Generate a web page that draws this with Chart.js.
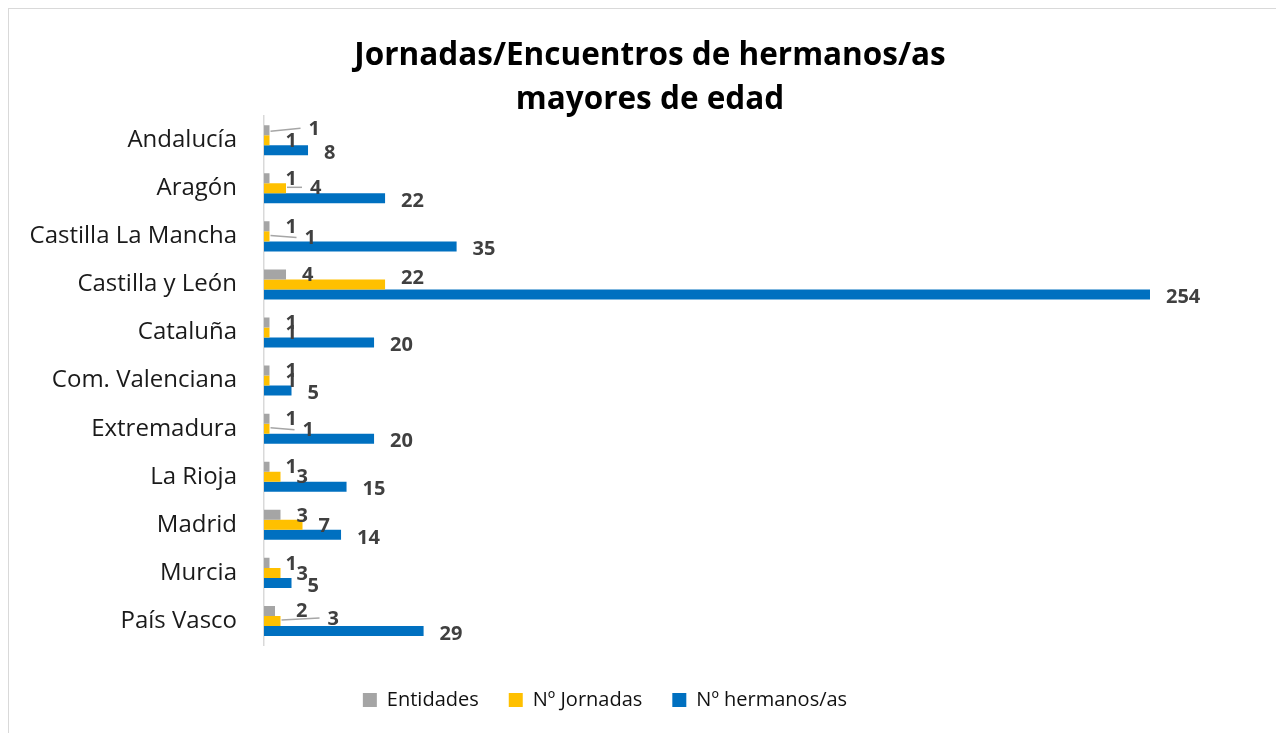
<!DOCTYPE html>
<html lang="es">
<head>
<meta charset="utf-8">
<title>Jornadas/Encuentros de hermanos/as mayores de edad</title>
<script src="https://cdn.jsdelivr.net/npm/chart.js@4/dist/chart.umd.min.js"></script>
<style>
  html, body { margin: 0; padding: 0; background: #fff; }
  canvas { display: block; }
</style>
</head>
<body>
<canvas id="grafico" width="1276" height="733"></canvas>
<script>
// datos
const categorias = ['Andalucía', 'Aragón', 'Castilla La Mancha', 'Castilla y León', 'Cataluña',
  'Com. Valenciana', 'Extremadura', 'La Rioja', 'Madrid', 'Murcia', 'País Vasco'];
const entidades = [1, 1, 1, 4, 1, 1, 1, 1, 3, 1, 2];
const jornadas  = [1, 4, 1, 22, 1, 1, 1, 3, 7, 3, 3];
const hermanos  = [8, 22, 35, 254, 20, 5, 20, 15, 14, 5, 29];

const FUENTE = '"Open Sans", "Noto Sans", sans-serif';

// etiquetas movidas a mano en el original: [dx, dy, linea guia]
const ajusteEtiquetas = {
  '0-0': [23, -2, true],
  '0-10': [5, -1, false],
  '1-1': [8, -1, true],
  '1-2': [19, 1, true],
  '1-3': [0, -7, false],
  '1-6': [17, 1, true],
  '1-10': [31, -3, true]
};

const marco = {
  id: 'marco',
  beforeDraw(chart) {
    const ctx = chart.ctx;
    ctx.save();
    ctx.fillStyle = '#fff';
    ctx.fillRect(0, 0, chart.width, chart.height);
    ctx.strokeStyle = '#d9d9d9';
    ctx.lineWidth = 1;
    ctx.strokeRect(8.5, 8.5, chart.width + 20, chart.height + 20);
    ctx.restore();
  },
  afterLayout(chart) {
    // centrar titulo y leyenda como en el original
    const mover = (box, dx) => { if (box) { box.left += dx; box.right += dx; } };
    mover(chart.titleBlock, 75);
    mover(chart.legend, 30);
  }
};

const etiquetas = {
  id: 'etiquetas',
  afterDatasetsDraw(chart) {
    const ctx = chart.ctx;
    const area = chart.chartArea;
    ctx.save();
    ctx.font = 'bold 20px ' + FUENTE;
    ctx.fillStyle = '#404040';
    ctx.textAlign = 'left';
    ctx.textBaseline = 'middle';
    chart.data.datasets.forEach((ds, i) => {
      const meta = chart.getDatasetMeta(i);
      meta.data.forEach((bar, j) => {
        const fin = Math.min(bar.x, area.right);
        const aj = ajusteEtiquetas[i + '-' + j] || [0, 0, false];
        const x = fin + 16 + aj[0];
        const y = bar.y + (i === 2 ? 2 : 0) + aj[1];
        if (aj[2]) {
          ctx.strokeStyle = '#a6a6a6';
          ctx.lineWidth = 1.5;
          ctx.beginPath();
          ctx.moveTo(fin + 1, bar.y + (i === 0 ? 1 : -1));
          ctx.lineTo(x - 8, y);
          ctx.stroke();
        }
        ctx.fillText(String(ds.data[j]), x, y + 1);
      });
    });
    ctx.restore();
  }
};

new Chart(document.getElementById('grafico'), {
  type: 'bar',
  data: {
    labels: categorias,
    datasets: [
      { label: 'Entidades', data: entidades, backgroundColor: '#a5a5a5' },
      { label: 'Nº Jornadas', data: jornadas, backgroundColor: '#ffc000' },
      { label: 'Nº hermanos/as', data: hermanos, backgroundColor: '#0070c0' }
    ]
  },
  options: {
    indexAxis: 'y',
    responsive: false,
    animation: false,
    categoryPercentage: 0.625,
    barPercentage: 1,
    layout: { padding: { left: 0, right: 126, top: 0, bottom: 13 } },
    scales: {
      x: {
        min: 0,
        max: 161,
        grid: { display: false, drawTicks: false },
        border: { display: false },
        ticks: { display: false },
        afterFit(scale) { scale.height = 15; }
      },
      y: {
        grid: { display: false, drawTicks: false },
        border: { display: true, color: '#d9d9d9', width: 1.5 },
        ticks: { padding: 27, color: '#1a1a1a', font: { family: FUENTE, size: 24 } },
        afterFit(scale) { scale.width = 264; }
      }
    },
    plugins: {
      title: {
        display: true,
        text: ['Jornadas/Encuentros de hermanos/as', 'mayores de edad'],
        color: '#000',
        font: { family: FUENTE, size: 31.5, weight: 'bold', lineHeight: 1.4 },
        padding: { top: 34, bottom: -6 }
      },
      legend: {
        position: 'bottom',
        labels: {
          boxWidth: 14,
          boxHeight: 14,
          padding: 30,
          color: '#111',
          font: { family: FUENTE, size: 20 }
        }
      },
      tooltip: { enabled: false }
    }
  },
  plugins: [marco, etiquetas]
});
</script>
</body>
</html>
